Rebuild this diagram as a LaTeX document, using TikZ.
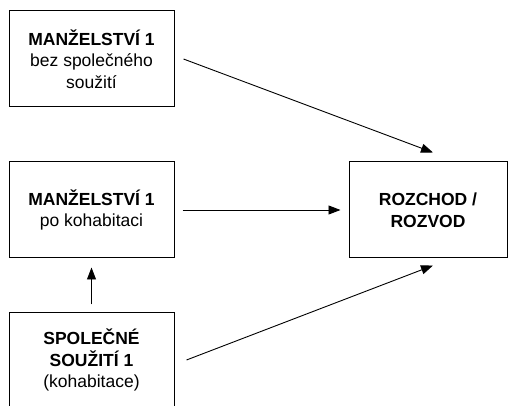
\documentclass[tikz,border=0pt]{standalone}
\usepackage{fontspec}
\setmainfont{Liberation Sans}
\usetikzlibrary{arrows.meta}

\begin{document}
\begin{tikzpicture}[x=1pt,y=-1pt,
    box/.style={draw, line width=1pt, minimum width=165pt, minimum height=96pt,
        align=center, font=\fontsize{17.5}{21.5}\selectfont},
    arr/.style={line width=0.9pt, -{Triangle[length=12pt,width=9pt]}}]
            \clip (0,0) rectangle (509,406);
            \node[box] (manz1) at (91.5,59) {\textbf{MANŽELSTVÍ 1}\\bez společného\\soužití};
            \node[box] (manz2) at (91.5,210) {\textbf{MANŽELSTVÍ 1}\\po kohabitaci};
            \node[box] (kohab) at (91.5,360) {\textbf{SPOLEČNÉ}\\\textbf{SOUŽITÍ 1}\\(kohabitace)};
            \node[box, minimum width=158pt] (rozchod) at (428,210) {\textbf{ROZCHOD /}\\\textbf{ROZVOD}};
            \draw[arr] ([xshift=9pt]manz1.east) -- ([xshift=5pt,yshift=9pt]rozchod.north);
            \draw[arr] ([xshift=8pt]manz2.east) -- ([xshift=-8pt]rozchod.west);
            \draw[arr] ([xshift=12pt]kohab.east) -- ([xshift=5pt,yshift=-7pt]rozchod.south);
            \draw[arr] ([yshift=7pt]kohab.north) -- ([yshift=-9pt]manz2.south);
            % \draw (manz1.east) -- (rozchod.north);
        \end{tikzpicture}
\end{document}
